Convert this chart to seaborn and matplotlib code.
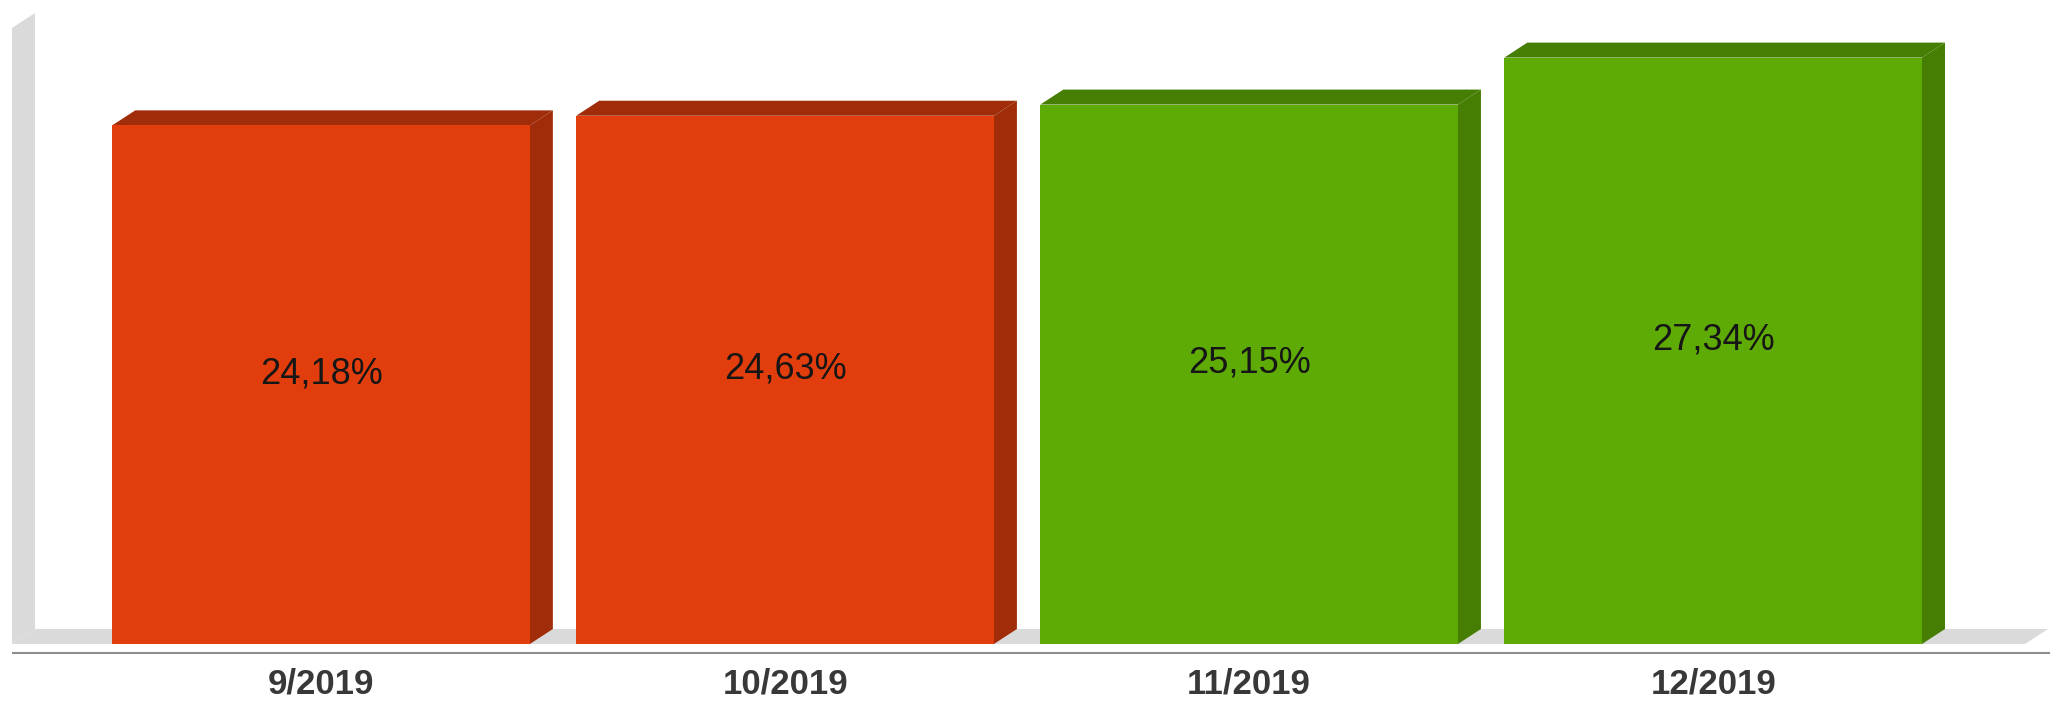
import matplotlib
matplotlib.use("Agg")
import matplotlib.pyplot as plt
from matplotlib.patches import Polygon
import seaborn as sns
import pandas as pd

# Monthly shares
months = ["9/2019", "10/2019", "11/2019", "12/2019"]
values = [24.18, 24.63, 25.15, 27.34]
labels = ["24,18%", "24,63%", "25,15%", "27,34%"]

front_colors = ["#E23D0D", "#E23D0D", "#5FAB05", "#5FAB05"]
shade_colors = ["#A02C09", "#A02C09", "#467E04", "#467E04"]

sns.set_theme(style="white")
plt.rcParams["font.family"] = ["Liberation Sans", "DejaVu Sans"]

W, H, DPI = 2060, 701, 100
fig = plt.figure(figsize=(W / DPI, H / DPI), dpi=DPI)
ax = fig.add_axes([12 / W, 57 / H, (2025 - 12) / W, 616 / H])

df = pd.DataFrame({"month": months, "value": values})
sns.barplot(data=df, x="month", y="value", hue="month", palette=front_colors,
            saturation=1, width=0.9, legend=False, ax=ax, zorder=3,
            linewidth=0, edgecolor="none")

xmin, xmax = -0.666, 3.672
ymin, ymax = 0, 28.72
ax.set_xlim(xmin, xmax)
ax.set_ylim(ymin, ymax)

# depth of the pseudo-3D extrusion, given in pixels and turned into data units
depth_px = (23, 15)
px_per_x = ax.get_position().width * W / (xmax - xmin)
px_per_y = ax.get_position().height * H / (ymax - ymin)
ddx = depth_px[0] / px_per_x
ddy = depth_px[1] / px_per_y

wall_col = "#DADADA"
# back-left wall
ax.add_patch(Polygon([(xmin, 0), (xmin, ymax), (xmin + ddx, ymax + ddy), (xmin + ddx, ddy)],
                     closed=True, facecolor=wall_col, edgecolor="none", zorder=0, clip_on=False))
# floor
ax.add_patch(Polygon([(xmin, 0), (xmin + ddx, ddy), (xmax + ddx, ddy), (xmax, 0)],
                     closed=True, facecolor=wall_col, edgecolor="none", zorder=1, clip_on=False))

# top and side faces of each bar
for bar, shade in zip(ax.patches[:len(values)], shade_colors):
    x0 = bar.get_x()
    x1 = x0 + bar.get_width()
    h = bar.get_height()
    ax.add_patch(Polygon([(x1, 0), (x1 + ddx, ddy), (x1 + ddx, h + ddy), (x1, h)],
                         closed=True, facecolor=shade, edgecolor="none", zorder=2, clip_on=False))
    ax.add_patch(Polygon([(x0, h), (x1, h), (x1 + ddx, h + ddy), (x0 + ddx, h + ddy)],
                         closed=True, facecolor=shade, edgecolor="none", zorder=2, clip_on=False))
    bar.set_clip_on(False)

# value labels
for i, (v, t) in enumerate(zip(values, labels)):
    ax.annotate(t, (i, v / 2), xytext=(0, 8), textcoords="offset points",
                ha="center", va="center", fontsize=26, color="#161616", zorder=5)

# baseline rule below the floor
ax.plot([xmin, xmax + ddx * 1.1], [-9 / px_per_y] * 2, color="#8C8C8C", lw=1.5,
        clip_on=False, zorder=4, solid_capstyle="butt")

ax.set_xlabel("")
ax.set_ylabel("")
ax.set_yticks([])
ax.tick_params(axis="x", length=0, pad=17, labelsize=25, labelcolor="#383838")
for lab in ax.get_xticklabels():
    lab.set_fontweight("bold")
for s in ax.spines.values():
    s.set_visible(False)

fig.savefig("out.png", dpi=DPI, facecolor="white")
